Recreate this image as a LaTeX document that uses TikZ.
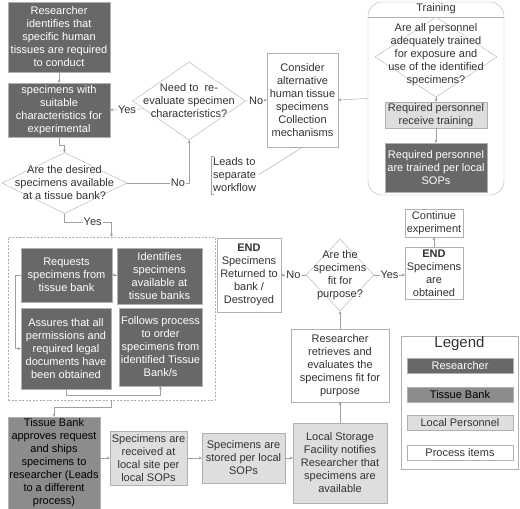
\documentclass[tikz,border=0pt]{standalone}
\usepackage{fontspec}
\setmainfont{Liberation Sans}
\usepackage{xcolor}
\usetikzlibrary{shapes.geometric,arrows.meta}

\definecolor{resgray}{HTML}{686868}
\definecolor{bankgray}{HTML}{8C8C8C}
\definecolor{localgray}{HTML}{DEDEDE}
\definecolor{edgegray}{HTML}{B0B0B0}
\definecolor{linegray}{HTML}{A0A0A0}
\definecolor{txtgray}{HTML}{333333}

\tikzset{
  box/.style={draw=edgegray, align=center, inner sep=0.5pt, font=\fontsize{11}{13}\selectfont},
  resbox/.style={box, fill=resgray, text=white},
  bankbox/.style={box, fill=bankgray, text=black},
  localbox/.style={box, fill=localgray, text=txtgray},
  procbox/.style={box, fill=white, text=txtgray},
  decision/.style={diamond, draw=edgegray, fill=white, inner sep=0pt},
  qtext/.style={align=center, text=txtgray, font=\fontsize{11}{13}\selectfont},
  link/.style={draw=linegray, -{Stealth[length=3pt,width=3pt]}},
  plain/.style={draw=linegray},
  yn/.style={fill=white, inner sep=1pt, text=txtgray, font=\fontsize{11}{13}\selectfont}
}

\begin{document}
\begin{tikzpicture}[x=1pt, y=-1pt]
  \useasboundingbox (0,0) rectangle (520,509);

  % researcher start
  \node[resbox, minimum width=102, minimum height=70] (ident) at (59,37)
    {Researcher\\identifies that\\specific human\\tissues are required\\to conduct};
  \node[resbox, minimum width=102, minimum height=54] (specs) at (59,110)
    {specimens with\\suitable\\characteristics for\\experimental};
  \node[decision, minimum width=113, minimum height=78] (reeval) at (189,101) {};
  \node[qtext] (reevalq) at (reeval) {Need to \ re-\\evaluate specimen\\characteristics?};
  \node[decision, minimum width=125, minimum height=61] (avail) at (64.5,183) {};
  \node[qtext] (availq) at (avail) {Are the desired\\specimens available\\at a tissue bank?};
  \node[procbox, minimum width=71, minimum height=94] (consider) at (302.5,100)
    {Consider\\alternative\\human tissue\\specimens\\Collection\\mechanisms};
  \node[qtext, align=left, anchor=west, inner sep=2pt] (note) at (211,175)
    {Leads to\\separate\\workflow};
  \draw[plain] ([xshift=3pt]note.north west) -- (note.north west) -- (note.south west) -- ++(3,0);

  % training
  \node[draw=edgegray, rounded corners=14, minimum width=136, minimum height=193] (training) at (436,98.5) {};
  \node[qtext] (trainhead) at (436,9) {Training};
  \draw[draw=edgegray] (training.west |- trainhead.south) -- (training.east |- trainhead.south);
  \node[decision, minimum width=122, minimum height=80] (trainq) at (436,57) {};
  \node[qtext] (trainqt) at (436,55)
    {Are all personnel\\adequately trained\\for exposure and\\use of the identified\\specimens?};
  \node[localbox, minimum width=102, minimum height=26] (rectrain) at (436,115)
    {Required personnel\\receive training};
  \node[resbox, minimum width=102, minimum height=49] (trained) at (436,167.5)
    {Required personnel\\are trained per local\\SOPs};

  % ordering group
  \node[draw=edgegray, dash pattern=on 2pt off 1.5pt, minimum width=207, minimum height=163] (group) at (111.5,318.5) {};
  \node[resbox, minimum width=91, minimum height=54] (requests) at (66.5,275)
    {Requests\\specimens from\\tissue bank};
  \node[resbox, minimum width=85, minimum height=56] (identifies) at (159.5,276)
    {Identifies\\specimens\\available at\\tissue banks};
  \node[resbox, minimum width=90, minimum height=81] (assures) at (66,348.5)
    {Assures that all\\permissions and\\required legal\\documents have\\been obtained};
  \node[resbox, minimum width=83, minimum height=78] (follows) at (160.5,347)
    {Follows process\\to order\\specimens from\\identified Tissue\\Bank/s};

  % shipping and storage
  \node[bankbox, minimum width=92, minimum height=92] (bank) at (54,463)
    {Tissue Bank\\approves request\\and ships\\specimens to\\researcher (Leads\\to a different\\process)};
  \node[localbox, minimum width=77, minimum height=54] (received) at (148.5,458)
    {Specimens are\\received at\\local site per\\local SOPs};
  \node[localbox, minimum width=83, minimum height=50] (stored) at (243.5,458)
    {Specimens are\\stored per local\\SOPs};
  \node[localbox, minimum width=94, minimum height=80] (notify) at (340,463)
    {Local Storage\\Facility notifies\\Researcher that\\specimens are\\available};
  \node[procbox, minimum width=98, minimum height=73] (retrieve) at (340,365.5)
    {Researcher\\retrieves and\\evaluates the\\specimens fit for\\purpose};
  \node[decision, minimum width=68, minimum height=72] (fit) at (340,275) {};
  \node[qtext] (fitq) at (fit) {Are the\\specimens\\fit for\\purpose?};
  \node[procbox, minimum width=64, minimum height=74] (returned) at (249,275)
    {\textbf{END}\\Specimens\\Returned to\\bank /\\Destroyed};
  \node[procbox, minimum width=58, minimum height=52] (obtained) at (434,273)
    {\textbf{END}\\Specimens\\are\\obtained};
  \node[procbox, minimum width=58, minimum height=28] (continue) at (434,223)
    {Continue\\experiment};

  % legend
  \node[draw=edgegray, minimum width=117, minimum height=133] (legend) at (459.5,402.5) {};
  \node[text=txtgray, font=\fontsize{15}{17}\selectfont] (legtitle) at (459.5,344) {Legend};
  \node[resbox, minimum width=106, minimum height=15] (legres) at (460,365.5) {Researcher};
  \node[bankbox, minimum width=106, minimum height=15] (legbank) at (460,394.5) {Tissue Bank};
  \node[localbox, minimum width=106, minimum height=15] (leglocal) at (460,423) {Local Personnel};
  \node[procbox, minimum width=106, minimum height=15] (legproc) at (460,452.5) {Process items};

  % connectors
  \draw[link] (ident) -- (specs);
  \draw[link] (specs.south) -- ++(0,8) -| (avail.north);
  \draw[link] (avail.east) -| node[yn, pos=0.41] {No} (reeval.south);
  \draw[link] (reeval.190) -- node[yn] {Yes} (specs.east);
  \draw[link] (reeval.east) -- node[yn] {No} (consider.west);
  \draw[link] (training.west) -- (consider.east);
  \draw[plain] (note.east) -- (consider.south);
  \draw[link] (trainq.south) -- (rectrain.north);
  \draw[link] (rectrain) -- (trained);
  \draw[link] (avail.south) -- ++(0,8) -| node[yn, pos=0.3] {Yes} (group.north);
  \draw[link] (identifies.west |- requests) -- (requests.east);
  \draw[link] (requests.west) -- ++(-6,0) |- (assures.west);
  \draw[link] (assures.south) -- ++(0,6) -| (follows.south);
  \draw[link] (group.south) -- ++(0,7) -| (bank.north);
  \draw[link] (bank.east |- received) -- (received.west);
  \draw[link] (received) -- (stored);
  \draw[link] (stored.east) -- (notify.west |- stored);
  \draw[link] (notify) -- (retrieve);
  \draw[link] (retrieve) -- (fit);
  \draw[link] (fit.west) -- node[yn] {No} (returned.east);
  \draw[link] (fit.east) -- node[yn] {Yes} (obtained.west |- fit);
  \draw[link] (obtained) -- (continue);
\end{tikzpicture}
\end{document}
